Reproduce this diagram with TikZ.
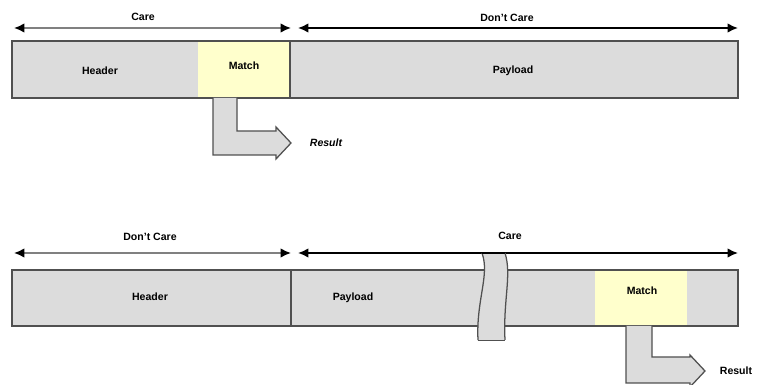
\documentclass[tikz,border=0pt]{standalone}
\usepackage{fontspec}
\setmainfont{Liberation Sans}
\usepackage{tikz}
\usetikzlibrary{arrows.meta}
\definecolor{pkt}{HTML}{DCDCDC}
\definecolor{hit}{HTML}{FFFFCC}
\definecolor{edge}{HTML}{505050}

\begin{document}
\begin{tikzpicture}[x=0.025cm,y=-0.025cm,
          every node/.style={font=\fontsize{7.5}{9}\selectfont\bfseries},
          field/.style={fill=pkt,draw=edge,line width=1pt},
          hitbox/.style={fill=hit},
          sep/.style={draw=edge,line width=1pt},
          span/.style={{Latex[length=2.6mm,width=2.4mm,color=black]}-{Latex[length=2.6mm,width=2.4mm,color=black]},line width=1.3pt},
          res/.style={fill=pkt,draw=edge,line width=0.9pt,line join=miter},
      ]
        \useasboundingbox (0,0) rectangle (758,385);

        % upper packet: match in header
        \draw[field] (12,41) rectangle (738,98);
        \fill[hitbox] (198,41.6) rectangle (290,97.4);
        \draw[sep] (290,41) -- (290,98);
        \node (hdrA) at (100,71) {Header};
        \node (matA) at (244,66) {Match};
        \node (payA) at (513,71) {Payload};

        \coordinate (a1) at (14,28);
        \coordinate (a2) at (291,28);
        \coordinate (a3) at (298,28);
        \coordinate (a4) at (738,28);
        \draw[span,draw=gray] (a1) -- (a2);
        \draw[span,draw=black] (a3) -- (a4);
        \node (careA) at (143,17) {Care};
        \node (dcA) at (507,18) {Don't Care};

        \draw[res] (213,98) -- (213,155) -- (276,155) -- (276,159) -- (291,143)
          -- (276,127) -- (276,131) -- (237,131) -- (237,98);
        \node[font=\fontsize{7.5}{9}\selectfont\bfseries\itshape] (resA) at (326,143) {Result};

        % lower packet: match in payload
        \draw[field] (12,270) rectangle (738,326);
        \fill[hitbox] (595,270.6) rectangle (687,325.4);
        \draw[sep] (291,270) -- (291,326);
        \node (hdrB) at (150,297) {Header};
        \node (payB) at (353,298) {Payload};
        \node (matB) at (642,291) {Match};

        \coordinate (b1) at (14,253);
        \coordinate (b2) at (291,253);
        \coordinate (b3) at (298,253);
        \coordinate (b4) at (738,253);
        \draw[span,draw=gray] (b1) -- (b2);
        \draw[span,draw=black] (b3) -- (b4);
        \node (dcB) at (150,237) {Don't Care};
        \node (careB) at (510,236) {Care};

        % break in the payload
        \fill[pkt] (482,253) .. controls (490,275) and (476,300) .. (478,340)
          -- (505,340) .. controls (503,300) and (512,275) .. (505,253) -- cycle;
        \draw[edge,line width=0.9pt] (482,253) .. controls (490,275) and (476,300) .. (478,340);
        \draw[edge,line width=0.9pt] (505,253) .. controls (512,275) and (503,300) .. (505,340);
        \draw[edge,line width=0.6pt] (478,340) -- (505,340);
        \draw[black,line width=2pt] (482,253) -- (505,253);

        \draw[res] (626,326) -- (626,383) -- (690,383) -- (690,387) -- (705,371)
          -- (690,355) -- (690,357) -- (652,357) -- (652,326);
        \node (resB) at (736,371) {Result};
      \end{tikzpicture}
\end{document}
